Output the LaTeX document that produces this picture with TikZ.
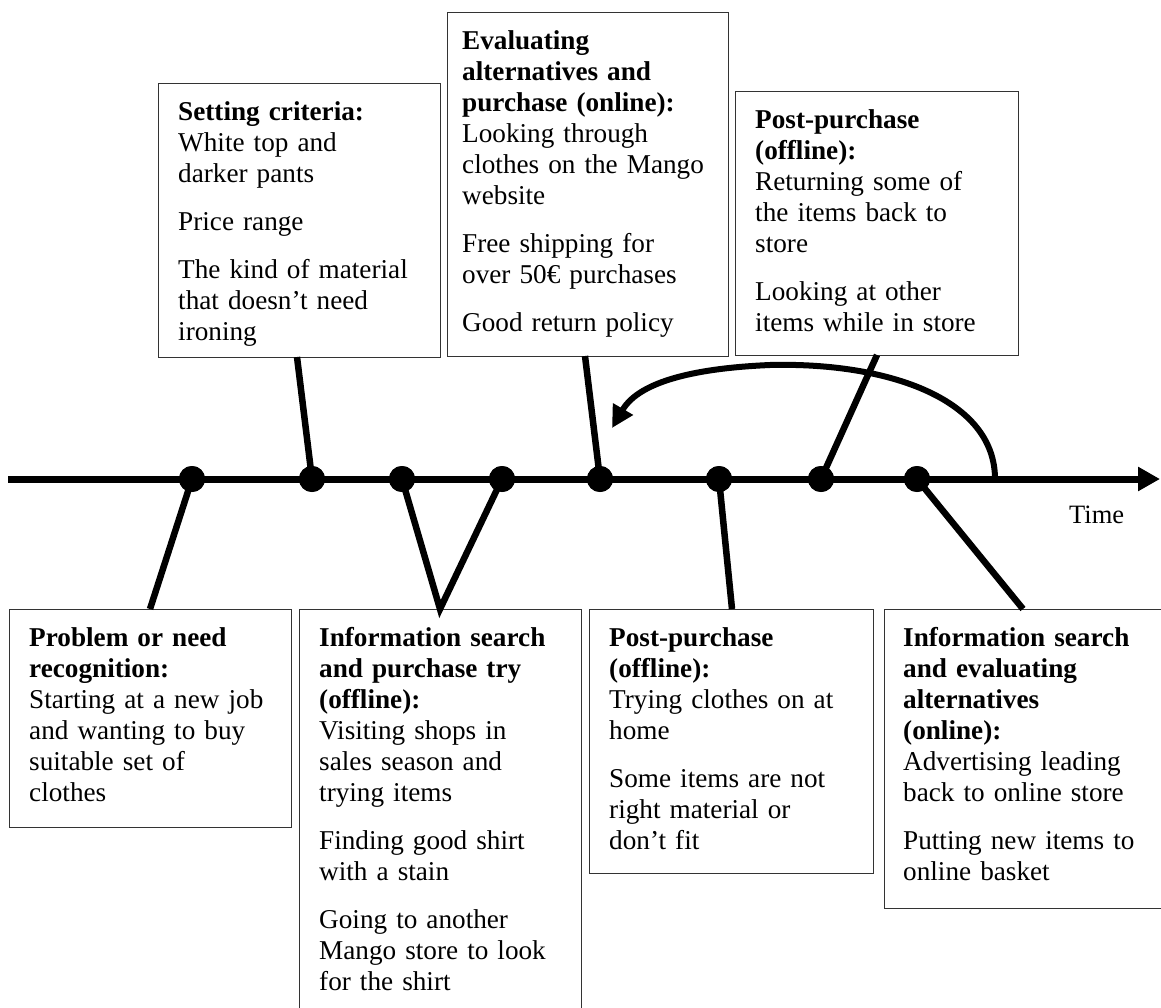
\documentclass[tikz,border=0pt]{standalone}
\usepackage{fontspec}
\setmainfont{Liberation Serif}
\usetikzlibrary{arrows.meta}

% strut that fixes the height of the first text line in every stage box
\newcommand\boxstrut{\rule{0pt}{22pt}}

\tikzset{
  stagebox/.style={rectangle, draw=black!80, line width=1.3pt, inner sep=0pt,
                   anchor=north west},
  stagetext/.style={anchor=north west, inner sep=0pt, text width=264pt, align=left,
                    font=\fontsize{27.2pt}{31pt}\selectfont},
  event/.style={circle, fill=black, inner sep=0pt, minimum size=26pt},
  link/.style={line width=6.5pt, line cap=butt},
  timeaxis/.style={line width=7pt, -{Triangle[length=22pt,width=23pt]}},
  loopback/.style={line width=6pt, -{Triangle[length=22pt,width=22pt]}},
}

\begin{document}
\begin{tikzpicture}[x=1pt, y=-1pt]
\useasboundingbox (0,0) rectangle (1161,1008);
\clip (0,0) rectangle (1161,1008);

% ---------- stage boxes above the time axis ----------
\node[stagebox, minimum width=282pt, minimum height=274pt] (crit) at (158,83) {};
\node[stagetext] (crittext) at ([shift={(20,15)}]crit.north west)
  {\boxstrut\textbf{Setting criteria:}\\
   White top and\\ darker pants\\[17pt]
   Price range\\[17pt]
   The kind of material\\ that doesn’t need\\ ironing};

\node[stagebox, minimum width=281pt, minimum height=344pt] (evalbuy) at (447,12) {};
\node[stagetext] (evalbuytext) at ([shift={(15,15)}]evalbuy.north west)
  {\boxstrut\textbf{Evaluating}\\ \textbf{alternatives and}\\ \textbf{purchase (online):}\\
   Looking through\\ clothes on the Mango\\ website\\[17pt]
   Free shipping for\\ over 50€ purchases\\[17pt]
   Good return policy};

\node[stagebox, minimum width=283pt, minimum height=264pt] (returnbox) at (735,91) {};
\node[stagetext] (returntext) at ([shift={(20,15)}]returnbox.north west)
  {\boxstrut\textbf{Post-purchase}\\ \textbf{(offline):}\\
   Returning some of\\ the items back to\\ store\\[17pt]
   Looking at other\\ items while in store};

% ---------- stage boxes below the time axis ----------
\node[stagebox, minimum width=282pt, minimum height=218pt] (need) at (9,609) {};
\node[stagetext] (needtext) at ([shift={(20,15)}]need.north west)
  {\boxstrut\textbf{Problem or need}\\ \textbf{recognition:}\\
   Starting at a new job\\ and wanting to buy\\ suitable set of\\ clothes};

\node[stagebox, minimum width=282pt, minimum height=412pt] (search) at (299,609) {};
\node[stagetext] (searchtext) at ([shift={(20,15)}]search.north west)
  {\boxstrut\textbf{Information search}\\ \textbf{and purchase try}\\ \textbf{(offline):}\\
   Visiting shops in\\ sales season and\\ trying items\\[17pt]
   Finding good shirt\\ with a stain\\[17pt]
   Going to another\\ Mango store to look\\ for the shirt};

\node[stagebox, minimum width=284pt, minimum height=264pt] (tryon) at (589,609) {};
\node[stagetext] (tryontext) at ([shift={(20,15)}]tryon.north west)
  {\boxstrut\textbf{Post-purchase}\\ \textbf{(offline):}\\
   Trying clothes on at\\ home\\[17pt]
   Some items are not\\ right material or\\ don’t fit};

\node[stagebox, minimum width=290pt, minimum height=299pt] (online) at (884,609) {};
\node[stagetext] (onlinetext) at ([shift={(19,15)}]online.north west)
  {\boxstrut\textbf{Information search}\\ \textbf{and evaluating}\\ \textbf{alternatives}\\ \textbf{(online):}\\
   Advertising leading\\ back to online store\\[17pt]
   Putting new items to\\ online basket};

% ---------- time axis ----------
\coordinate (axisstart) at (8,479);
\coordinate (axisend) at (1160,479);
\draw[timeaxis] (axisstart) -- (axisend);
\node[anchor=base west, inner sep=0pt, font=\fontsize{26.5pt}{30pt}\selectfont]
  (timelabel) at (1069,523) {Time};

% events on the axis
\node[event] (e1) at (192,479) {};
\node[event] (e2) at (312,479) {};
\node[event] (e3) at (402,479) {};
\node[event] (e4) at (502,479) {};
\node[event] (e5) at (600,479) {};
\node[event] (e6) at (719,479) {};
\node[event] (e7) at (821,479) {};
\node[event] (e8) at (917,479) {};

% points where the links meet the boxes
\coordinate (needtop)   at (150,609);
\coordinate (critbot)   at (297,357);
\coordinate (searchtop) at (440,609);
\coordinate (evalbot)   at (585,356);
\coordinate (tryontop)  at (732,609);
\coordinate (returnbot) at (877,355);
\coordinate (onlinetop) at (1023,609);

% links from events to their stage boxes
\draw[link] (e1.center) -- (needtop);
\draw[link] (e2.center) -- (critbot);
\draw[link, line join=miter] (e3.center) -- (searchtop) -- (e4.center);
\draw[link] (e5.center) -- (evalbot);
\draw[link] (e6.center) -- (tryontop);
\draw[link] (e7.center) -- (returnbot);
\draw[link] (e8.center) -- (onlinetop);

% event dots drawn again over the link ends
\foreach \ev in {e1,e2,e3,e4,e5,e6,e7,e8}
  \fill (\ev.center) circle (13pt);

% loop back from the online search to the online evaluation
\coordinate (loopstart) at (995,479);
\coordinate (looptip) at (612,428);
\draw[loopback] (loopstart) .. controls (995,400) and (890,362) .. (770,365)
                .. controls (700,368) and (640,380) .. (looptip);
\end{tikzpicture}
\end{document}
